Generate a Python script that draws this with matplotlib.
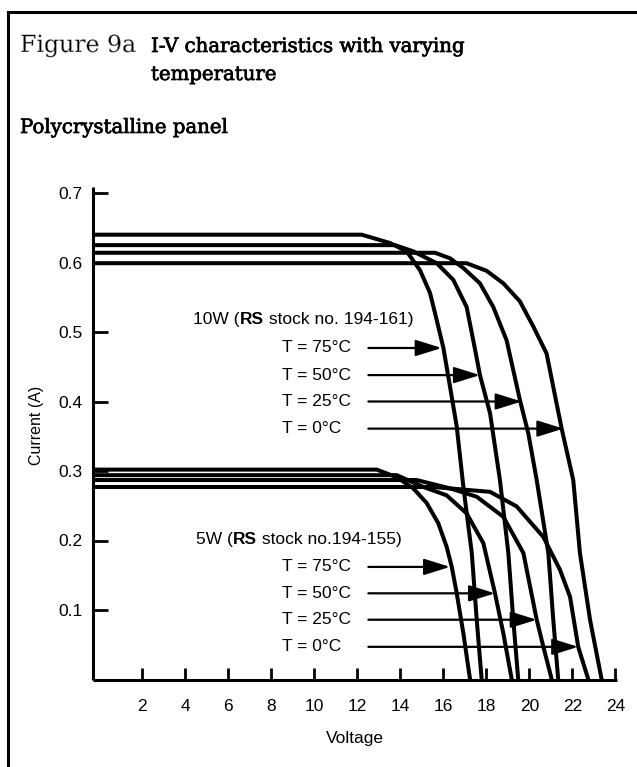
import matplotlib
matplotlib.use("Agg")
import matplotlib.pyplot as plt
from matplotlib.lines import Line2D
import matplotlib.patheffects as pe

# ---------------- data ----------------
x_ticks = [2, 4, 6, 8, 10, 12, 14, 16, 18, 20, 22, 24]
y_ticks = [0.1, 0.2, 0.3, 0.4, 0.5, 0.6, 0.7]
y_tick_labels = ["0.1", "0.2", "0.3", "0.4", "0.5", "0.6", "0.7"]

temps = ["T = 75°C", "T = 50°C", "T = 25°C", "T = 0°C"]

# 10W panel curves (voltage, current)
v10_75 = [0, 12.2, 13.52, 14.29, 14.91, 15.38, 15.69, 16.0, 16.31, 16.62, 16.93, 17.32, 17.55, 17.78]
i10_75 = [0.640, 0.640, 0.628, 0.616, 0.589, 0.556, 0.517, 0.477, 0.421, 0.364, 0.277, 0.182, 0.086, 0.0]
v10_50 = [0, 13.75, 14.6, 15.69, 16.46, 17.08, 17.39, 17.7, 18.17, 18.63, 19.02, 19.25, 19.48]
i10_50 = [0.625, 0.625, 0.616, 0.599, 0.575, 0.536, 0.488, 0.438, 0.383, 0.287, 0.182, 0.086, 0.0]
v10_25 = [0, 15.61, 16.31, 16.93, 17.7, 18.32, 18.94, 19.25, 19.56, 19.95, 20.34, 20.88, 21.11, 21.34]
i10_25 = [0.614, 0.614, 0.606, 0.592, 0.570, 0.536, 0.488, 0.445, 0.402, 0.354, 0.287, 0.182, 0.086, 0.0]
v10_0 = [0, 17.08, 18.01, 18.79, 19.56, 20.18, 20.8, 21.11, 21.5, 22.04, 22.35, 22.82, 23.36]
i10_0 = [0.599, 0.599, 0.588, 0.570, 0.544, 0.508, 0.469, 0.421, 0.361, 0.287, 0.182, 0.086, 0.0]

# 5W panel curves
v5_75 = [0, 12.9, 13.83, 14.6, 15.22, 15.76, 16.15, 16.39, 16.62, 16.93, 17.24]
i5_75 = [0.302, 0.302, 0.291, 0.275, 0.254, 0.225, 0.191, 0.162, 0.124, 0.066, 0.0]
v5_50 = [0, 13.83, 15.07, 16.15, 17.08, 17.86, 18.4, 18.79, 19.18]
i5_50 = [0.294, 0.294, 0.277, 0.265, 0.239, 0.196, 0.124, 0.066, 0.0]
v5_25 = [0, 14.76, 16.31, 17.55, 18.79, 19.72, 20.34, 20.65, 21.04]
i5_25 = [0.287, 0.287, 0.275, 0.263, 0.234, 0.182, 0.086, 0.047, 0.0]
v5_0 = [0, 15.53, 18.17, 19.41, 20.65, 21.42, 21.89, 22.27, 22.74]
i5_0 = [0.277, 0.277, 0.270, 0.249, 0.205, 0.158, 0.119, 0.047, 0.0]

# label arrows: current level, arrow tip voltage
arrow10_i = [0.477, 0.438, 0.400, 0.361]
arrow10_tip = [15.92, 17.70, 19.64, 21.58]
arrow5_i = [0.162, 0.124, 0.086, 0.047]
arrow5_tip = [16.31, 18.40, 20.34, 22.27]
arrow_tail_v = 12.51
label_v = 8.5

# ---------------- layout ----------------
W, H, DPI = 637, 767, 100
fig = plt.figure(figsize=(W / DPI, H / DPI), dpi=DPI)
fig.patch.set_facecolor("white")

def fx(x):
    return x / W

def fy(y):
    return 1 - y / H

XMIN, XMAX = -0.28, 24.08
YMIN, YMAX = 0.0, 0.708
PXV = 21.5
V0PX = 99.4
left_px = V0PX + XMIN * PXV
right_px = V0PX + XMAX * PXV
bottom_px = 679.5
top_px = bottom_px - YMAX * 695
ax = fig.add_axes([fx(left_px), fy(bottom_px), (right_px - left_px) / W, (bottom_px - top_px) / H])
ax.set_xlim(XMIN, XMAX)
ax.set_ylim(YMIN, YMAX)
ax.patch.set_alpha(0)

SANS = ["Liberation Sans", "DejaVu Sans"]
SERIF = ["DejaVu Serif"]

for s in ["top", "right"]:
    ax.spines[s].set_visible(False)
for s in ["left", "bottom"]:
    ax.spines[s].set_linewidth(2.2)
    ax.spines[s].set_capstyle("butt")

ax.set_xticks(x_ticks)
ax.set_xticklabels([str(t) for t in x_ticks], fontfamily=SANS, fontsize=12.5)
ax.set_yticks(y_ticks)
ax.set_yticklabels(y_tick_labels, fontfamily=SANS, fontsize=12.5)
ax.tick_params(axis="x", direction="in", length=9, width=2, pad=14)
ax.tick_params(axis="y", direction="in", length=11, width=2, pad=8)

curve_kw = dict(color="black", lw=2.9, solid_joinstyle="miter", solid_capstyle="butt", clip_on=False)

def draw(v, i):
    vv = [XMIN] + list(v[1:])
    ax.plot(vv, i, **curve_kw)

for v, i in [(v10_0, i10_0), (v10_25, i10_25), (v10_50, i10_50), (v10_75, i10_75),
             (v5_0, i5_0), (v5_25, i5_25), (v5_50, i5_50), (v5_75, i5_75)]:
    draw(v, i)

arrow_kw = dict(arrowstyle="-|>,head_length=0.8,head_width=0.25", mutation_scale=20,
                lw=1.6, color="black", shrinkA=0, shrinkB=0)

for lab, yi, tip in zip(temps, arrow10_i, arrow10_tip):
    ax.text(label_v, yi, lab, fontfamily=SANS, fontsize=12.5, va="center", ha="left")
    ax.annotate("", xy=(tip, yi), xytext=(arrow_tail_v, yi), arrowprops=arrow_kw)
for lab, yi, tip in zip(temps, arrow5_i, arrow5_tip):
    ax.text(label_v, yi, lab, fontfamily=SANS, fontsize=12.5, va="center", ha="left")
    ax.annotate("", xy=(tip, yi), xytext=(arrow_tail_v, yi), arrowprops=arrow_kw)

def rich_label(x, y, parts):
    t = ax.text(x, y, parts[0][0], fontfamily=SANS, fontsize=12.5, fontweight=parts[0][1],
                va="baseline", ha="left")
    prev = t
    for txt, wt in parts[1:]:
        prev = ax.annotate(txt, xy=(1, 0), xycoords=prev, va="bottom", ha="left",
                           fontfamily=SANS, fontsize=12.5, fontweight=wt)
    return t

rich_label(4.37, 0.512, [("10W (", "normal"), ("RS", "bold"), (" stock no. 194-161)", "normal")])
rich_label(4.5, 0.195, [("5W (", "normal"), ("RS", "bold"), (" stock no.194-155)", "normal")])

ax.set_xlabel("Voltage", fontfamily=SANS, fontsize=12.5, labelpad=12)
fig.text(fx(37), fy(425), "Current (A)", rotation=90, fontfamily=SANS, fontsize=11.5,
         ha="center", va="center")

# title block
thin = [pe.Normal(), pe.Stroke(linewidth=0.3, foreground="white")]
heavy = [pe.Stroke(linewidth=0.5, foreground="black"), pe.Normal()]
fig.text(fx(20), fy(52), "Figure 9a", fontfamily=SERIF, fontsize=17, va="baseline",
         path_effects=thin)
fig.text(fx(151), fy(52), "I-V characteristics with varying", fontfamily=SERIF, fontsize=14.2,
         va="baseline", path_effects=heavy)
fig.text(fx(151), fy(80), "temperature", fontfamily=SERIF, fontsize=14.2, va="baseline",
         path_effects=heavy)
fig.text(fx(20), fy(133), "Polycrystalline panel", fontfamily=SERIF, fontsize=14.2, va="baseline",
         path_effects=heavy)

# frame (left and top edges of the document box)
frame_kw = dict(color="black", lw=2.2, transform=fig.transFigure, solid_capstyle="projecting")
fig.add_artist(Line2D([fx(8), fx(637)], [fy(12), fy(12)], **frame_kw))
fig.add_artist(Line2D([fx(8), fx(8)], [fy(12), fy(767)], **frame_kw))

fig.savefig("out.png", dpi=DPI, facecolor="white")
